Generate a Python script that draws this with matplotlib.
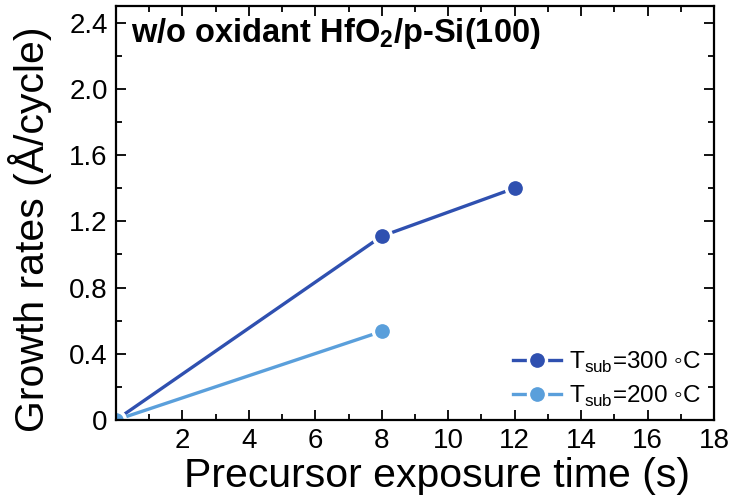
import matplotlib
matplotlib.use("Agg")
import matplotlib.pyplot as plt
from matplotlib.ticker import MultipleLocator

plt.rcParams['font.family'] = ['Liberation Sans', 'DejaVu Sans']
plt.rcParams['mathtext.fontset'] = 'custom'
plt.rcParams['mathtext.rm'] = 'Liberation Sans'

x_300 = [0, 8, 12]
y_300 = [0, 1.11, 1.40]
x_200 = [0, 8]
y_200 = [0, 0.535]
labels = ["T$_\\mathregular{sub}$=300 \u25e6C", "T$_\\mathregular{sub}$=200 \u25e6C"]
colors = ["#2f50b0", "#5a9fdb"]

fig = plt.figure(figsize=(7.31, 5.04), dpi=100)
ax = fig.add_axes([116/731, 1-420/504, (714-116)/731, (420-6)/504])

for xs, ys, c, lab in [(x_300, y_300, colors[0], labels[0]), (x_200, y_200, colors[1], labels[1])]:
    ax.plot(xs, ys, color=c, lw=2.4, marker='o', ms=13, mfc=c, mec='white', mew=2.4, label=lab)

ax.set_xlim(0, 18)
ax.set_ylim(0, 2.5)
ax.xaxis.set_minor_locator(MultipleLocator(1))
ax.yaxis.set_minor_locator(MultipleLocator(0.2))
ax.set_xticks([2, 4, 6, 8, 10, 12, 14, 16, 18])
ax.set_yticks([0, 0.4, 0.8, 1.2, 1.6, 2.0, 2.4])
ax.set_yticklabels(["0", "0.4", "0.8", "1.2", "1.6", "2.0", "2.4"])
ax.tick_params(which='both', direction='in', top=True, right=True, width=1.3)
ax.tick_params(which='major', length=7, labelsize=20, pad=6)
ax.tick_params(which='minor', length=4)
for s in ax.spines.values():
    s.set_linewidth(1.6)

ax.set_xlabel("Precursor exposure time (s)", fontsize=29.5)
ax.xaxis.set_label_coords(0.537, -0.089)
ax.set_ylabel("Growth rates (Å/cycle)", fontsize=29.5)
ax.yaxis.set_label_coords(-0.107, 0.461)
ax.text(0.025, 0.975, "w/o oxidant HfO$_\\mathregular{2}$/p-Si(100)", transform=ax.transAxes,
        fontsize=23.5, fontweight='bold', va='top', ha='left')

ax.legend(loc='lower right', frameon=False, fontsize=17.5, handlelength=2.0,
          handletextpad=0.3, labelspacing=0.35, borderaxespad=0, borderpad=0,
          bbox_to_anchor=(0.977, 0.027))

fig.savefig("out.png", dpi=100)
